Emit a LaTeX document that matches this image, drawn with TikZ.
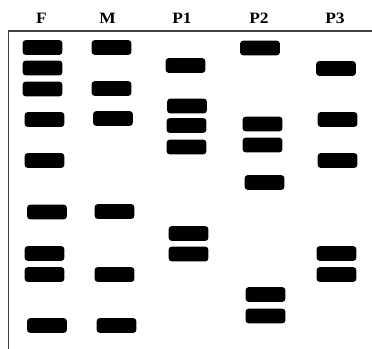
\documentclass[tikz,border=0pt]{standalone}
\usepackage{fontspec}
\setmainfont{Liberation Serif}
\begin{document}
\begin{tikzpicture}[x=0.03cm, y=-0.03cm,
    band/.style={rectangle, fill=black, rounded corners=2.5pt, inner sep=0pt,
      minimum width=1.19cm, minimum height=0.44cm},
    lanelabel/.style={font=\bfseries\fontsize{13.5}{15}\selectfont, inner sep=0pt,
      xscale=1.1}]

  % --- Rahmen (Bildkoordinaten in px, y nach unten) ---
  \useasboundingbox (0,0) rectangle (372,349);
  \definecolor{framecol}{HTML}{404040}
  \draw[framecol, line width=1pt] (372,31) -- (8.5,31) -- (8.5,349);

  % --- Spaltenbeschriftung ---
  \node[lanelabel] (lab-F)  at (41.5,18.5) {F};
  \node[lanelabel] (lab-M)  at (107.5,18.5) {M};
  \node[lanelabel] (lab-P1) at (182,18.5) {P1};
  \node[lanelabel] (lab-P2) at (259,18.5) {P2};
  \node[lanelabel] (lab-P3) at (335,18.5) {P3};

  % --- Banden F ---
  \foreach \x/\y [count=\i] in {42.5/47.5, 42.5/68, 42.5/89, 44.5/119.5, 44.5/160.5,
      47/212, 44.5/253.5, 44.5/274.5, 47/325.5}
    \node[band] (F-\i) at (\x,\y) {};

  % --- Banden M ---
  \foreach \x/\y [count=\i] in {111.5/47.5, 111.5/88.5, 113/118.5, 114.5/211.5,
      114.5/274.5, 116.5/325.5}
    \node[band] (M-\i) at (\x,\y) {};

  % --- Banden P1 ---
  \foreach \x/\y [count=\i] in {185.5/65.5, 187/106, 186.5/125.5, 186.5/147,
      188.5/233.5, 188.5/254}
    \node[band] (P1-\i) at (\x,\y) {};

  % --- Banden P2 ---
  \foreach \x/\y [count=\i] in {260/48, 262.5/124, 262.5/145, 264.5/182.5,
      265.5/294.5, 265.5/316}
    \node[band] (P2-\i) at (\x,\y) {};

  % --- Banden P3 ---
  \foreach \x/\y [count=\i] in {336/68.5, 337.5/119.5, 337.5/160.5, 336.5/253.5,
      336.5/274.5}
    \node[band] (P3-\i) at (\x,\y) {};

\end{tikzpicture}
\end{document}
